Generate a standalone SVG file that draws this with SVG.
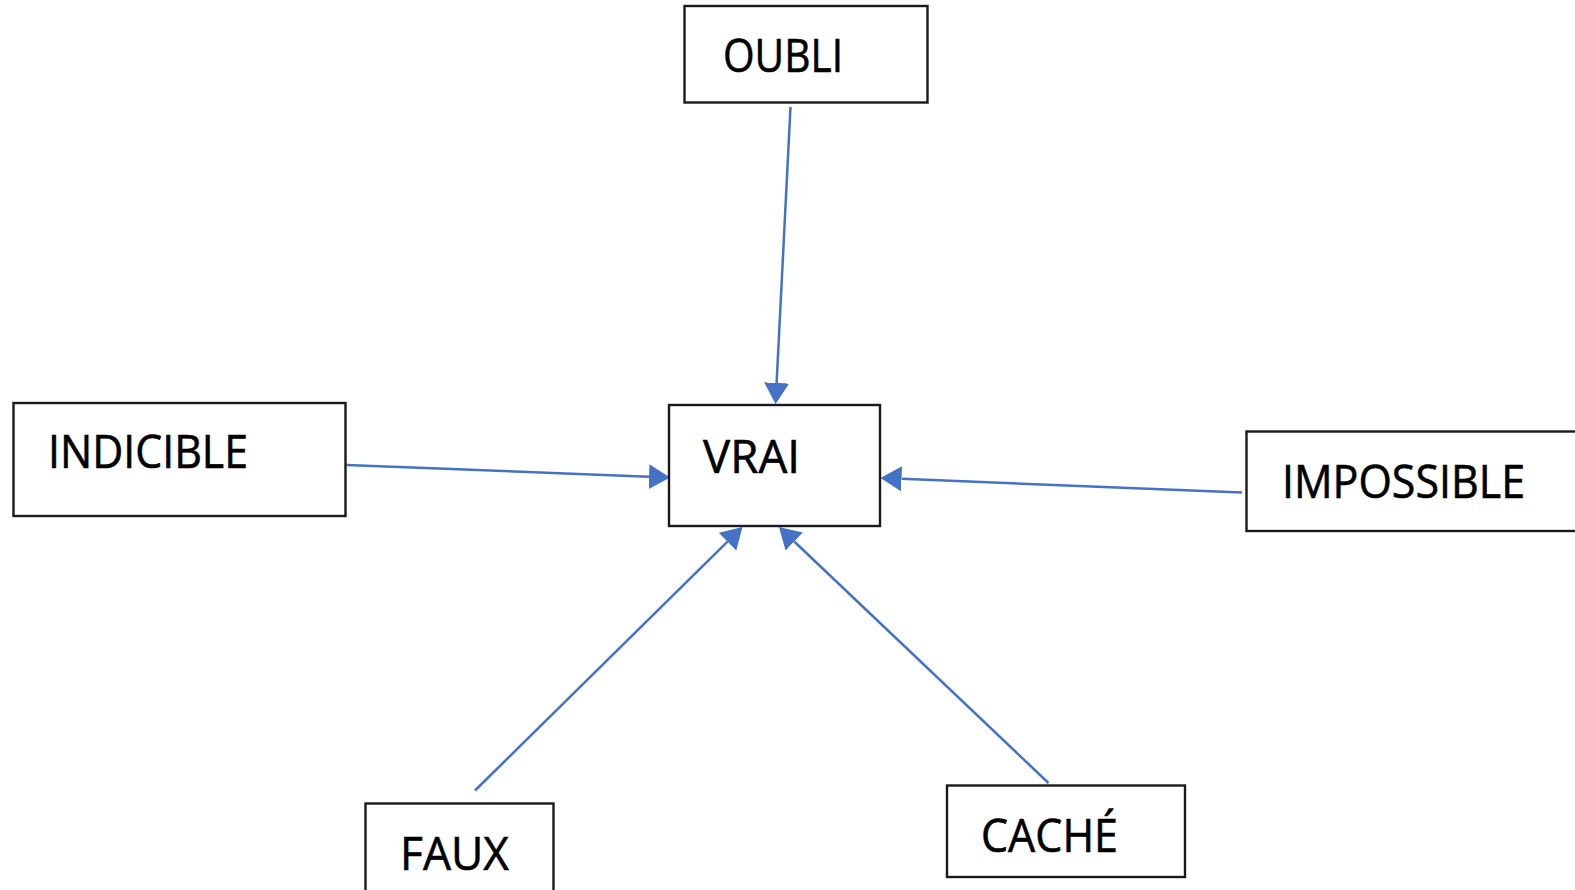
<svg xmlns="http://www.w3.org/2000/svg" width="1575" height="890" viewBox="0 0 1575 890">
  <style>
    .box { fill: #ffffff; stroke: #1a1a1a; stroke-width: 2.4; }
    .lbl { font-family: "Open Sans", "Noto Sans", "Liberation Sans", sans-serif; font-size: 46px; fill: #000000; stroke: #000000; stroke-width: 0.6; }
    .edge { stroke: #4472C4; stroke-width: 2.5; fill: none; }
  </style>
  <defs>
    <marker id="arr" markerUnits="userSpaceOnUse" markerWidth="22" markerHeight="26" refX="0" refY="12.5" orient="auto">
      <path d="M0,0 L21,12.5 L0,25 z" fill="#4472C4"/>
    </marker>
  </defs>
  <rect width="1575" height="890" fill="#ffffff"/>

  <g id="connectors">
    <line class="edge" x1="790.5" y1="107" x2="776.6" y2="383" marker-end="url(#arr)"/>
    <line class="edge" x1="346.5" y1="465" x2="649" y2="476.7" marker-end="url(#arr)"/>
    <line class="edge" x1="1242" y1="492.5" x2="901.5" y2="478.8" marker-end="url(#arr)"/>
    <line class="edge" x1="475" y1="790.5" x2="727.5" y2="541.7" marker-end="url(#arr)"/>
    <line class="edge" x1="1048.5" y1="783" x2="794.2" y2="541.5" marker-end="url(#arr)"/>
  </g>

  <g id="node-oubli">
    <rect class="box" x="684.5" y="6" width="243" height="96.5"/>
    <text class="lbl" x="723" y="72" textLength="120" lengthAdjust="spacingAndGlyphs">OUBLI</text>
  </g>
  <g id="node-vrai">
    <rect class="box" x="669" y="405" width="211" height="121"/>
    <text class="lbl" x="703" y="473" textLength="97" lengthAdjust="spacingAndGlyphs">VRAI</text>
  </g>
  <g id="node-indicible">
    <rect class="box" x="13.5" y="403" width="332" height="113"/>
    <text class="lbl" x="48" y="468" textLength="200" lengthAdjust="spacingAndGlyphs">INDICIBLE</text>
  </g>
  <g id="node-impossible">
    <rect class="box" x="1246.5" y="431.5" width="340" height="99.5"/>
    <text class="lbl" x="1282" y="498" textLength="243" lengthAdjust="spacingAndGlyphs">IMPOSSIBLE</text>
  </g>
  <g id="node-faux">
    <rect class="box" x="365.5" y="803.5" width="188" height="100"/>
    <text class="lbl" x="400" y="870" textLength="109" lengthAdjust="spacingAndGlyphs">FAUX</text>
  </g>
  <g id="node-cache">
    <rect class="box" x="947" y="785.5" width="238" height="91.5"/>
    <text class="lbl" x="981" y="852" textLength="137" lengthAdjust="spacingAndGlyphs">CACHÉ</text>
  </g>
</svg>
